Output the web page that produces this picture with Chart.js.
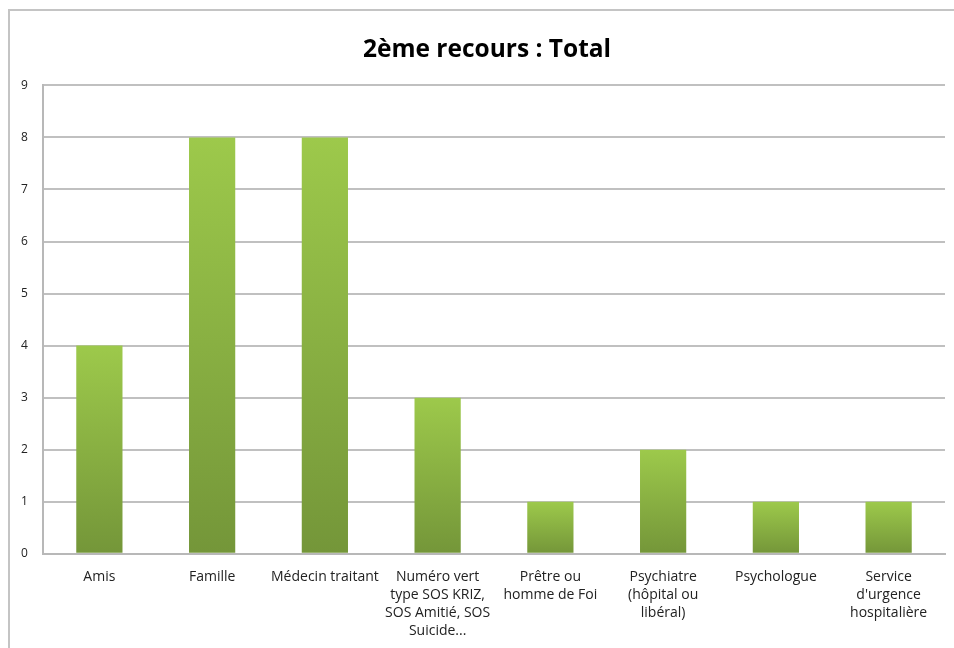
<!DOCTYPE html>
<html>
<head>
<meta charset="utf-8">
<script src="https://cdn.jsdelivr.net/npm/chart.js@4/dist/chart.umd.min.js"></script>
<style>
  html, body { margin: 0; padding: 0; background: #fff; overflow: hidden; }
  #frame {
    position: absolute; left: 8px; top: 9px;
    width: 960px; height: 660px;
    border: 2px solid #c4c4c4;
    box-sizing: border-box;
  }
  #wrap { position: absolute; left: 0; top: 0; width: 956px; height: 643px; }
</style>
</head>
<body>
<div id="frame"><div id="wrap"><canvas id="c"></canvas></div></div>
<script>
// Catégories (libellés sur plusieurs lignes) et effectifs
const categories = [
  ["Amis"],
  ["Famille"],
  ["Médecin traitant"],
  ["Numéro vert", "type SOS KRIZ,", "SOS Amitié, SOS", "Suicide..."],
  ["Prêtre ou", "homme de Foi"],
  ["Psychiatre", "(hôpital ou", "libéral)"],
  ["Psychologue"],
  ["Service", "d'urgence", "hospitalière"]
];
const totals = [4, 8, 8, 3, 1, 2, 1, 1];
const yTicks = [0, 1, 2, 3, 4, 5, 6, 7, 8, 9];

const FONT = "'Open Sans', 'Liberation Sans', sans-serif";

// Dégradé vertical propre à chaque barre : vert clair en haut, plus sombre en bas
function barGradient(context) {
  const chart = context.chart;
  const y = chart.scales && chart.scales.y;
  if (!chart.chartArea || !y || context.raw === undefined) return '#8ab142';
  const top = y.getPixelForValue(context.raw);
  const bottom = y.getPixelForValue(0);
  const g = chart.ctx.createLinearGradient(0, top, 0, bottom);
  g.addColorStop(0, '#9dc94b');
  g.addColorStop(1, '#749639');
  return g;
}

new Chart(document.getElementById('c'), {
  type: 'bar',
  data: {
    labels: categories,
    datasets: [{
      label: 'Total',
      data: totals,
      backgroundColor: barGradient,
      borderWidth: 0,
      categoryPercentage: 1,
      barPercentage: 0.41
    }]
  },
  options: {
    responsive: true,
    maintainAspectRatio: false,
    animation: false,
    layout: { padding: { left: 19, right: 21, top: 12, bottom: 0 } },
    plugins: {
      legend: { display: false },
      tooltip: { enabled: false },
      title: {
        display: true,
        text: '2ème recours : Total',
        color: '#000',
        font: { family: FONT, size: 24.5, weight: 'bold' },
        padding: { top: 12, bottom: 21 }
      }
    },
    scales: {
      x: {
        grid: { display: false, drawTicks: false },
        border: { display: true, color: '#b8b8b8', width: 2 },
        ticks: {
          color: '#222',
          font: { family: FONT, size: 14, lineHeight: 1.29 },
          padding: 14,
          maxRotation: 0,
          autoSkip: false
        }
      },
      y: {
        min: 0,
        max: 9,
        afterBuildTicks: (axis) => { axis.ticks = yTicks.map(v => ({ value: v })); },
        afterFit: (axis) => { axis.width = 14; },
        grid: { color: '#c0c0c0', lineWidth: 2, drawTicks: false },
        border: { display: true, color: '#b8b8b8', width: 2 },
        ticks: {
          mirror: true,
          color: '#222',
          font: { family: FONT, size: 12 },
          padding: -22
        }
      }
    }
  }
});
</script>
</body>
</html>
